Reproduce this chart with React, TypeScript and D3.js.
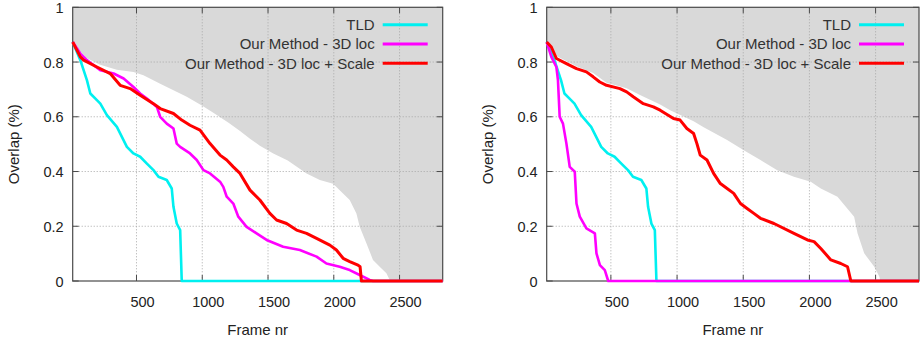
import React from 'react'
import * as d3 from 'd3'

type Pt = [number, number]

// axes
const frameRange: Pt = [15, 2828]
const xTicks = [500, 1000, 1500, 2000, 2500]
const yTicks = [0, 0.2, 0.4, 0.6, 0.8, 1]

const seriesNames = ['TLD', 'Our Method - 3D loc', 'Our Method - 3D loc + Scale']
const seriesColors = ['#00f0f0', '#ff00ff', '#ff0000']

// TLD is the same in both panels
const tld: Pt[] = [
  [15, 0.873], [73, 0.807], [123, 0.734], [149, 0.685], [199, 0.661], [225, 0.648],
  [275, 0.606], [351, 0.563], [427, 0.49], [477, 0.466], [528, 0.454], [579, 0.429],
  [629, 0.405], [667, 0.381], [730, 0.369], [768, 0.338], [781, 0.271], [806, 0.21],
  [832, 0.186], [844, 0], [2828, 0],
]

// left panel
const loc3dLeft: Pt[] = [
  [15, 0.873], [73, 0.831], [123, 0.807], [225, 0.77], [326, 0.758], [402, 0.74],
  [477, 0.709], [528, 0.685], [579, 0.667], [655, 0.636], [680, 0.6], [730, 0.575],
  [781, 0.557], [806, 0.502], [832, 0.49], [907, 0.466], [958, 0.442], [1009, 0.405],
  [1059, 0.393], [1135, 0.363], [1160, 0.344], [1186, 0.308], [1236, 0.283], [1274, 0.235],
  [1337, 0.198], [1413, 0.174], [1489, 0.15], [1615, 0.125], [1742, 0.113], [1869, 0.089],
  [1944, 0.064], [2045, 0.052], [2121, 0.04], [2197, 0.022], [2273, 0.004], [2298, 0],
  [2828, 0],
]
const locScaleLeft: Pt[] = [
  [15, 0.873], [73, 0.819], [98, 0.807], [199, 0.782], [300, 0.758], [376, 0.715],
  [452, 0.703], [528, 0.679], [629, 0.648], [680, 0.63], [781, 0.612], [844, 0.588],
  [907, 0.569], [983, 0.551], [1059, 0.502], [1135, 0.46], [1186, 0.442], [1236, 0.417],
  [1287, 0.393], [1363, 0.332], [1438, 0.296], [1514, 0.247], [1565, 0.223], [1641, 0.21],
  [1717, 0.186], [1793, 0.174], [1869, 0.156], [1970, 0.131], [2020, 0.113], [2071, 0.083],
  [2121, 0.071], [2184, 0.058], [2200, 0.052], [2210, 0], [2828, 0],
]
const bestLeft: Pt[] = [
  [15, 0.876], [60, 0.845], [120, 0.815], [224, 0.79], [350, 0.772], [477, 0.764],
  [553, 0.752], [680, 0.721], [882, 0.673], [1000, 0.64], [1084, 0.615], [1200, 0.578],
  [1287, 0.548], [1363, 0.52], [1438, 0.494], [1540, 0.466], [1650, 0.44], [1793, 0.393],
  [1894, 0.369], [1995, 0.355], [2045, 0.332], [2121, 0.296], [2172, 0.247], [2197, 0.198],
  [2248, 0.138], [2298, 0.077], [2349, 0.052], [2400, 0.028], [2425, 0.004], [2430, 0],
  [2828, 0],
]

// right panel
const loc3dRight: Pt[] = [
  [15, 0.873], [50, 0.819], [88, 0.782], [100, 0.734], [113, 0.6], [138, 0.575],
  [164, 0.502], [189, 0.417], [227, 0.399], [240, 0.283], [265, 0.235], [315, 0.192],
  [379, 0.174], [391, 0.101], [417, 0.058], [454, 0.04], [480, 0], [2828, 0],
]
const locScaleRight: Pt[] = [
  [15, 0.873], [50, 0.855], [88, 0.813], [164, 0.794], [240, 0.776], [315, 0.764],
  [366, 0.746], [416, 0.727], [467, 0.715], [568, 0.703], [619, 0.691], [669, 0.673],
  [745, 0.648], [821, 0.636], [872, 0.624], [973, 0.594], [1023, 0.588], [1074, 0.557],
  [1125, 0.539], [1150, 0.502], [1175, 0.46], [1226, 0.442], [1276, 0.393], [1327, 0.356],
  [1378, 0.338], [1428, 0.32], [1479, 0.283], [1529, 0.265], [1580, 0.247], [1630, 0.229],
  [1732, 0.21], [1883, 0.174], [1985, 0.15], [2035, 0.144], [2086, 0.119], [2162, 0.077],
  [2237, 0.064], [2288, 0.052], [2313, 0], [2828, 0],
]
const bestRight: Pt[] = [
  [15, 0.88], [88, 0.822], [240, 0.785], [366, 0.76], [467, 0.724], [619, 0.704],
  [720, 0.68], [872, 0.645], [948, 0.624], [1125, 0.584], [1201, 0.562], [1378, 0.515],
  [1504, 0.478], [1630, 0.442], [1757, 0.405], [1883, 0.381], [2010, 0.363], [2086, 0.338],
  [2212, 0.308], [2338, 0.235], [2364, 0.174], [2414, 0.101], [2490, 0.052], [2528, 0.016],
  [2536, 0], [2828, 0],
]

const font = 'Arial, "Liberation Sans", sans-serif'
const textColor = '#222'
const axisColor = '#4a4a4a'

function Panel({ left, right, best, series }: { left: number; right: number; best: Pt[]; series: Pt[][] }) {
  const top = 7.3
  const bottom = 281
  const x = d3.scaleLinear().domain(frameRange).range([left, right])
  const y = d3.scaleLinear().domain([0, 1]).range([bottom, top])
  const line = d3.line<Pt>().x((d) => x(d[0])).y((d) => y(d[1]))
  const area = d3.area<Pt>().x((d) => x(d[0])).y0(y(1)).y1((d) => y(d[1]))
  const tick = 6
  const widths = [2.6, 2.6, 3]

  return (
    <g>
      <path d={area(best) || ''} fill="#d9d9d9" />
      {xTicks.map((t) => (
        <line key={'gx' + t} x1={x(t)} x2={x(t)} y1={top} y2={bottom} stroke="#a8a8a8" strokeWidth={1} strokeDasharray="1,2" />
      ))}
      {yTicks.slice(1, -1).map((t) => (
        <line key={'gy' + t} x1={left} x2={right} y1={y(t)} y2={y(t)} stroke="#a8a8a8" strokeWidth={1} strokeDasharray="1,2" />
      ))}
      <rect x={left} y={top} width={right - left} height={bottom - top} fill="none" stroke={axisColor} strokeWidth={1.2} />
      {xTicks.map((t) => (
        <g key={'tx' + t}>
          <line x1={x(t)} x2={x(t)} y1={bottom} y2={bottom - tick} stroke={axisColor} />
          <line x1={x(t)} x2={x(t)} y1={top} y2={top + tick} stroke={axisColor} />
          <text x={x(t) + 6} y={307} textAnchor="middle" fontSize={14.5} fontFamily={font} fill={textColor}>
            {t}
          </text>
        </g>
      ))}
      {yTicks.map((t) => (
        <g key={'ty' + t}>
          <line x1={left} x2={left + tick} y1={y(t)} y2={y(t)} stroke={axisColor} />
          <line x1={right} x2={right - tick} y1={y(t)} y2={y(t)} stroke={axisColor} />
          <text x={left - 9} y={y(t) + 5.5} textAnchor="end" fontSize={14.5} fontFamily={font} fill={textColor}>
            {String(t)}
          </text>
        </g>
      ))}
      {series.map((s, i) => (
        <path key={'s' + i} d={line(s) || ''} fill="none" stroke={seriesColors[i]} strokeWidth={widths[i]} strokeLinejoin="round" />
      ))}
      {seriesNames.map((name, i) => {
        const ly = top + 17.4 + i * 19.3
        return (
          <g key={'lg' + i}>
            <text x={right - 68} y={ly + 5.3} textAnchor="end" fontSize={15} fontFamily={font} fill="#333">
              {name}
            </text>
            <line x1={right - 60} x2={right - 15} y1={ly} y2={ly} stroke={seriesColors[i]} strokeWidth={3} />
          </g>
        )
      })}
      <text x={(left + right) / 2} y={335} textAnchor="middle" fontSize={15} fontFamily={font} fill={textColor}>
        Frame nr
      </text>
      <text
        transform={`translate(${left - 53.5},${(top + bottom) / 2}) rotate(-90)`}
        textAnchor="middle"
        fontSize={15}
        fontFamily={font}
        fill={textColor}
      >
        Overlap (%)
      </text>
    </g>
  )
}

export default function App() {
  return (
    <svg width={922} height={344} style={{ position: 'absolute', left: 0, top: 0, background: '#fff' }}>
      <Panel left={72.7} right={442.7} best={bestLeft} series={[tld, loc3dLeft, locScaleLeft]} />
      <Panel left={546.7} right={919} best={bestRight} series={[tld, loc3dRight, locScaleRight]} />
    </svg>
  )
}
